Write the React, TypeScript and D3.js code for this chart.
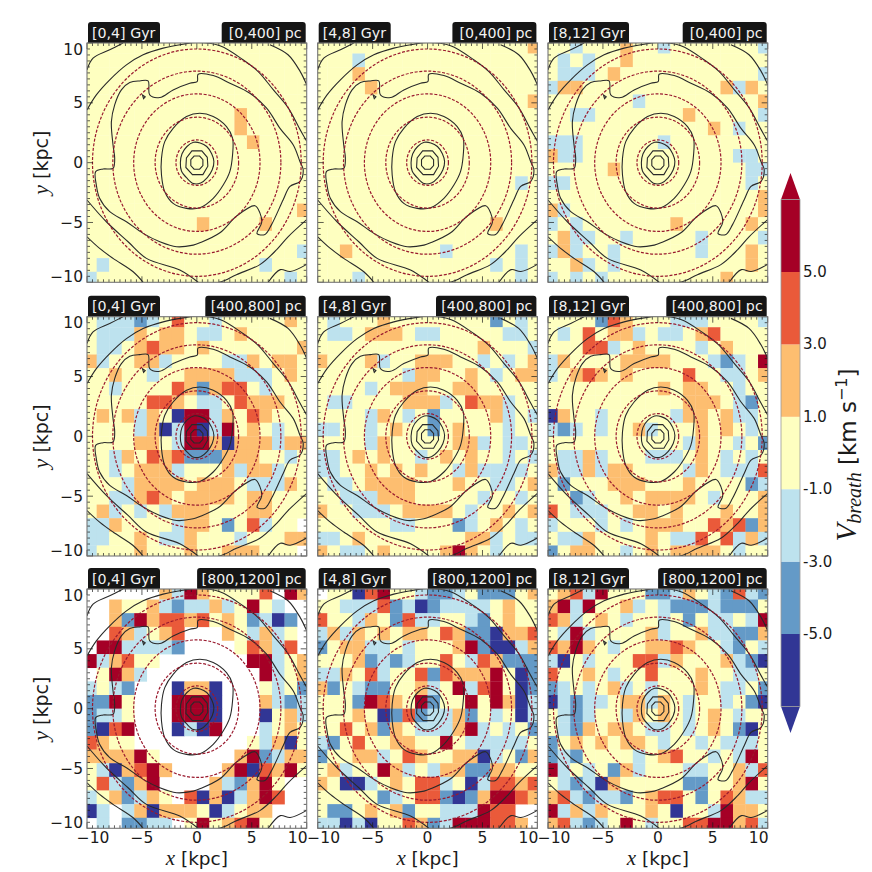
import * as d3 from "d3";

// cell codes: D -6, B -4, b -2, . 0, o 2, r 4, R 6, _ no data
const codeValues: Record<string, number> = { D: -6, B: -4, b: -2, ".": 0, o: 2, r: 4, R: 6, _: NaN };

const age0Thin = [
  "..................", "..................", "..................", "..................", "..................",
  "............o.....", "............o.....", ".............o....", "..................", "..................",
  "..................", "..................", ".................o", ".........o....o...", "..................",
  ".................b", ".b............b...", "b...............b.",
];
const age1Thin = [
  ".................o", "...b..............", "...o..............", "....o.............", ".................o",
  "..................", "..................", "..................", "..................", "..................",
  "................b.", "..................", "..................", "..............o...", "..................",
  "..o.......b.....b.", "..............b.b.", "...b............b.",
];
const age2Thin = [
  "..b...o..b.......b", ".b.b..o...........", ".bbb.o...........b", "boo...........obo.", ".......b.........o",
  "..bb.......o.....b", ".............o.b..", "bbb......b........", "obb............bb.", ".....o..........bb",
  "bb..............b.", ".................o", "ob...............o", "b.b.......o.....o.", ".obb..b.....b....b",
  "bob..b......b...o.", "..ob.b..........o.", "b.b.b.........o...",
];
const age0Mid = [
  ".bbbBb.r..b.....o.", ".bbbo.oo.bb.o.....", ".bb.oroo.o.......o", "ob..oob....bbo.oo.", "..o..b..oooobbb.o.",
  "..b....roBorr.b...", ".....rro.bb.rooo..", ".o.obo.DRRbo.ro...", "....boDbRDbR.o.b..", "....oo.bRRoDoooboo",
  "..bo.rorBBBooo..b.", "..b.ooob...oboob..", "...boooo.ooo.bbbo.", "..bboro.oooo.oo...", ".ob.b.booo...oo...",
  "bbo....boo.B.rb.._", "bb..o.bbo...b...oo", "b...o...o..ooo..._",
];
const age1Mid = [
  ".b...o........B.b.", ".bb.ooo.bb.....bb.", ".............o...b", "o...ob..ooo..b.b.o", ".......boo..o.b.oo",
  "....b.ooo..oo.....", ".bb....ooob.roob..", "....bo.b.B....ob.b", "bb..b.o..B.o...b..", "....bo.....oob.bb.",
  "bb.o.o..b.o.o..b.b", "bb..o.o.o..bobbbb.", ".bb.oooo...o..bb.o", "..bbbooo.....b..b.", "o..bbb.oooo.b..o.o",
  "......bb...Bb.o.b.", "bb.o........oob.bb", "o.bb.o....oRo.b...",
];
const age2Mid = [
  "....Bro...bbb....b", ".b.r.oob.bb.or....", "...rrb.o....b.o...", "bo....oooo...bBb.R", "b.oro.o....r..bb.o",
  ".........o.oo..b..", "...........ooo.bB.", "Do..b.....boo.obb.", "bBb.b..ob...o.o.b.", "...........bo..b.B",
  ".bbob...bbb.o.b.b.", "obboboo....bo.bbbr", ".B...ooo...o....Bb", "..Bb..o.oooo.b...o", "r.bbb..oo.o...o..o",
  "b...b.b.ooo..rorBo", ".bbo....o.bbr.rbob", "B.oo..b.o.oooo.b..",
];
const age0Thick = [
  "______obRo....r_Ro", "__o..obBbbob.R.b__", "__oBRorror.o.BbDB_", "__rob.or___o.bob._", "_RRbbbbB____.robr_",
  "Rbor.._______RRb.o", "_.Rob_________Rb.o", "b.bB___DooD___.b.B", "BBR.___RRRD___obBb", "Bbb.___RRRD___D.ob",
  "BDrR___DbDR___b.o.", "ro.._________.boD.", "ooooR.______oRBboo", ".bDorRo____oRDroR.", ".rbBoR____obBoR.__",
  "b.oBbo._rDoDboRr__", "Db_boDooo.Db.oo___", "_b_BBbb_.R.orR.___",
];
const age1Thick = [
  "_..DrR..bBBb.BBB.o", "..bbbrBbDBbbbb.o..", "r..bo.Brbb..bB.o..", "bobo.o.oo.roBBDoor", "B.oobb.b...oRBDDbo",
  "...oBbBb..r.broBBB", "bbo.rb..rBroooR.DB", "oB.bBB..ob.RbrR.DB", "...BRro.RB..R.RoDb", "...o.DBrBbboB.b.Db",
  "..r.oBo.bbboRb.b.B", "bB.r..oo..R.bbbbb.", "B..oob.ro..ooDb.Bo", ".ob..Rob.booBBoo..", "o.DDb.o.rrb.Dbrror",
  ".....Bb.rrBDBoRRro", ".BB.o.oB..bbbRrr__", "bbDbD..roBbRRRrro_",
];
const age2Thick = [
  ".orbR...BBbo.bBrbB", "oRbR..ob.bBBBbBBB.", "rob.o.b..b.B.bb.bR", ".bRb....ob..obbBBo", "roRo.b..ooro..bB.b",
  "bD.b...rrbo...obBD", "r..o.b..r...o..bb.", "Bb.b.ob.b...o.bb.B", "DbBbb.oobo.b..b.BD", ".bBb..bo.o.b.o.b..",
  ".bBo.oo.bb.b.o.BD.", "B.o.o.oo.b..b.bbb.", "BbB....b.or..b.bR.", "Rb.b.Bob...bb..obr", ".bBbDo.....BB..oR.",
  "orbBbbB.orr.B.robb", "Rbobo...o.D..bRoo.", "orbBb.R.b..rrRRorb",
];

const ageLabels = ["[0,4] Gyr", "[4,8] Gyr", "[8,12] Gyr"];
const heightLabels = ["[0,400] pc", "[400,800] pc", "[800,1200] pc"];
const grids = [
  [age0Thin, age1Thin, age2Thin],
  [age0Mid, age1Mid, age2Mid],
  [age0Thick, age1Thick, age2Thick],
];

const binWidth = 1.14;
const guideRadii = [1.9, 3.8, 5.75, 7.65, 9.5];
const majorTicks = [-10, -5, 0, 5, 10];
const levels = [-5, -3, -1, 1, 3, 5];
const levelColors = ["#313695", "#649ac7", "#bde2ee", "#feffc0", "#fdbe70", "#ea5a3a", "#a50026"];
const barLabels = ["-5.0", "-3.0", "-1.0", "1.0", "3.0", "5.0"];

// central octagons from the coarse density grid, kept straight-edged
const coreContours: [number, number][][] = [
  [[-0.25, 0.55], [0.25, 0.55], [0.55, 0.25], [0.55, -0.25], [0.25, -0.55], [-0.25, -0.55], [-0.55, -0.25], [-0.55, 0.25]],
  [[-0.45, 0.98], [0.45, 0.98], [0.95, 0.45], [1.0, -0.3], [0.55, -1.0], [-0.4, -1.0], [-1.0, -0.4], [-0.95, 0.4]],
  [[-4.95, 5.65], [-4.7, 5.5], [-4.85, 5.35]],
];
const closedContours: [number, number][][] = [
  [[-0.3, 1.7], [0.3, 1.65], [0.9, 1.35], [1.35, 0.75], [1.55, 0.1], [1.4, -0.6], [0.95, -1.25], [0.35, -1.7], [-0.3, -1.75], [-0.9, -1.3], [-1.4, -0.7], [-1.5, 0], [-1.35, 0.75], [-0.9, 1.35]],
  [[0.27, 4.13], [1.49, 3.85], [2.7, 3.01], [3.25, 2.04], [3.25, 0.64], [3.0, -0.75], [2.4, -1.87], [1.49, -2.98], [0.27, -3.77], [-0.94, -3.82], [-2.16, -3.4], [-2.92, -2.43], [-3.22, -1.03], [-3.22, 0.36], [-2.92, 1.76], [-2.16, 2.87], [-0.94, 3.85]],
  [[-4.44, 6.83], [-4.29, 5.66], [-3.37, 5.44], [-2.16, 6.08], [-0.64, 6.64], [0.03, 6.78], [0.12, 7.39], [1.49, 7.28], [3.01, 6.64], [4.83, 5.8], [6.35, 4.55], [7.57, 2.87], [8.78, 1.48], [9.39, 0.08], [9.68, -0.58], [9.4, -1.56], [8.48, -1.98], [7.86, -3.1], [6.8, -5.18], [6.2, -6.0], [5.48, -5.93], [5.9, -5.0], [5.74, -4.2], [5.29, -3.6], [3.6, -4.48], [2.1, -5.86], [0.27, -6.7], [-0.33, -6.89], [-1.85, -7.03], [-3.37, -6.61], [-4.89, -5.91], [-6.41, -4.94], [-7.93, -4.1], [-8.85, -2.98], [-9.15, -1.87], [-9.21, -0.75], [-8.54, -0.53], [-7.63, -0.47], [-7.48, 0.36], [-7.63, 1.48], [-7.78, 3.43], [-7.48, 4.83], [-6.87, 6.08], [-6.11, 6.69], [-5.2, 6.83]],
];
const openContours: [number, number][][] = [
  [[-10, 4.41], [-9.15, 5.66], [-7.93, 6.92], [-6.41, 8.17], [-4.89, 9.01], [-3.07, 9.57], [-1.25, 9.9], [0, 10.04], [2.1, 9.77], [4.2, 8.6], [5.56, 7.63], [6.95, 6.1], [8.3, 4.6], [9.4, 2.76], [10, 1.78]],
  [[-10, -3.12], [-8.24, -4.94], [-6.26, -6.61], [-4.59, -8.0], [-1.55, -8.98], [0.12, -10]],
  [[10, -4.76], [8.3, -6.2], [7.27, -7.27], [5.74, -8.52], [3.6, -9.36], [2.4, -9.9], [2, -10]],
  [[6.5, -10], [7.6, -8.94], [8.5, -9.1], [10, -8.5]],
  [[6.65, 9.86], [8.3, 9.02], [9.4, 7.63], [10, 6.5]],
  [[-10, 7.75], [-9.45, 8.73], [-7.93, 9.43], [-6.72, 10]],
  [[-10, -6.2], [-8.85, -7.17], [-7.63, -8.0], [-5.8, -9.12], [-4.89, -10]],
];

const panelLefts = [87, 317.7, 548];
const panelTops = [43, 316.7, 589];
const panelW = 219.7;
const panelH = 239.3;

const colorScale = d3.scaleThreshold<number, string>().domain(levels).range(levelColors);
const sans = "DejaVu Sans";
const serif = "Liberation Serif";
const ink = "#1a1a1a";

const tickText = (t: number) => (t < 0 ? `\u2212${-t}` : `${t}`);
// end labels are nudged inward, as the original layout does
const yNudge = (t: number) => (t === 10 ? 6 : t === -10 ? -6 : 0);
const xNudge = (t: number) => (t === -10 ? 6 : t === 10 ? -9 : 0);

function Panel({ row, col }: { row: number; col: number }) {
  const left = panelLefts[col];
  const top = panelTops[row];
  const x = d3.scaleLinear().domain([-10, 10]).range([left, left + panelW]);
  const y = d3.scaleLinear().domain([-10, 10]).range([top + panelH, top]);
  const clipId = `clip-${row}-${col}`;
  const grid = grids[row][col];
  const straight = d3.line().x((d) => x(d[0])).y((d) => y(d[1])).curve(d3.curveLinearClosed);
  const smoothClosed = d3.line().x((d) => x(d[0])).y((d) => y(d[1])).curve(d3.curveCatmullRomClosed.alpha(0.5));
  const smoothOpen = d3.line().x((d) => x(d[0])).y((d) => y(d[1])).curve(d3.curveCatmullRom.alpha(0.5));
  const minor = d3.range(-10, 10.01, 0.5);

  const rightLabel = heightLabels[row];
  const rightW = rightLabel.length * 8.2 + 2;

  return (
    <g>
      <rect x={left + 1} y={top - 21} width={col === 2 ? 80 : 72} height={23} rx={3} fill="#151515" />
      <rect x={left + panelW - rightW - 1} y={top - 21} width={rightW} height={23} rx={3} fill="#151515" />
      <text x={left + 5} y={top - 5.5} fontFamily={sans} fontSize={14.2} fill="#f2f2f2">{ageLabels[col]}</text>
      <text x={left + panelW - 5} y={top - 5.5} textAnchor="end" fontFamily={sans} fontSize={14.2} fill="#f2f2f2">{rightLabel}</text>
      <rect x={left} y={top} width={panelW} height={panelH} fill="#fff" />
      <clipPath id={clipId}>
        <rect x={left} y={top} width={panelW} height={panelH} />
      </clipPath>
      <g clipPath={`url(#${clipId})`}>
        {grid.map((line, j) =>
          line.split("").map((code, i) => {
            const value = codeValues[code];
            if (Number.isNaN(value)) return null;
            const x0 = x((i - 9) * binWidth);
            const x1 = x((i - 8) * binWidth);
            const y0 = y((9 - j) * binWidth);
            const y1 = y((8 - j) * binWidth);
            return <rect key={`${j}-${i}`} x={x0} y={y0} width={x1 - x0 + 0.3} height={y1 - y0 + 0.3} fill={colorScale(value)} />;
          })
        )}
        {coreContours.map((c, i) => (
          <path key={`k${i}`} d={straight(c) ?? ""} fill="none" stroke="#2a2a2a" strokeWidth={1.1} />
        ))}
        {closedContours.map((c, i) => (
          <path key={`c${i}`} d={smoothClosed(c) ?? ""} fill="none" stroke="#2a2a2a" strokeWidth={1.1} />
        ))}
        {openContours.map((c, i) => (
          <path key={`o${i}`} d={smoothOpen(c) ?? ""} fill="none" stroke="#2a2a2a" strokeWidth={1.1} />
        ))}
        {guideRadii.map((r) => (
          <ellipse
            key={r}
            cx={x(0)}
            cy={y(0)}
            rx={x(r) - x(0)}
            ry={y(0) - y(r)}
            fill="none"
            stroke="#9a1a2e"
            strokeWidth={1.2}
            strokeDasharray="3 1.6"
          />
        ))}
      </g>
      {minor.map((t) => {
        const long = majorTicks.includes(t);
        const len = long ? 6 : 3;
        return (
          <g key={t} stroke={ink} strokeWidth={0.7}>
            <line x1={x(t)} x2={x(t)} y1={top + panelH} y2={top + panelH - len} />
            <line x1={x(t)} x2={x(t)} y1={top} y2={top + len} />
            <line x1={left} x2={left + len} y1={y(t)} y2={y(t)} />
            <line x1={left + panelW} x2={left + panelW - len} y1={y(t)} y2={y(t)} />
          </g>
        );
      })}
      <rect x={left} y={top} width={panelW} height={panelH} fill="none" stroke="#777" strokeWidth={1.1} />
      {col === 0 &&
        majorTicks.map((t) => (
          <text key={t} x={left - 4} y={y(t) + 5.5 + yNudge(t)} textAnchor="end" fontFamily={sans} fontSize={15.5} fill={ink}>
            {tickText(t)}
          </text>
        ))}
      {row === 2 &&
        majorTicks.map((t) => (
          <text key={t} x={x(t) + xNudge(t)} y={top + panelH + 15} textAnchor="middle" fontFamily={sans} fontSize={15.5} fill={ink}>
            {tickText(t)}
          </text>
        ))}
      {col === 0 && (
        <text
          transform={`translate(${left - 39},${top + panelH / 2}) rotate(-90)`}
          textAnchor="middle"
          fontFamily={sans}
          fontSize={19}
          fill={ink}
        >
          <tspan fontFamily={serif} fontStyle="italic" fontSize={22}>y</tspan> [kpc]
        </text>
      )}
      {row === 2 && (
        <text x={left + panelW / 2} y={top + panelH + 37} textAnchor="middle" fontFamily={sans} fontSize={18.5} fill={ink}>
          <tspan fontFamily={serif} fontStyle="italic" fontSize={21}>x</tspan> [kpc]
        </text>
      )}
    </g>
  );
}

function ColorBar() {
  const barY = d3.scaleLinear().domain([-5, 5]).range([634, 272]);
  const xLeft = 781;
  const xRight = 800;
  const xMid = (xLeft + xRight) / 2;
  const topBase = barY(7);
  const bottomBase = barY(-7);
  const edges = [-7, ...levels, 7];
  return (
    <g>
      <polygon points={`${xLeft},${topBase} ${xMid},173 ${xRight},${topBase}`} fill={levelColors[6]} />
      <polygon points={`${xLeft},${bottomBase} ${xMid},733 ${xRight},${bottomBase}`} fill={levelColors[0]} />
      {levelColors.map((c, i) => (
        <rect key={c} x={xLeft} y={barY(edges[i + 1])} width={xRight - xLeft} height={barY(edges[i]) - barY(edges[i + 1])} fill={c} />
      ))}
      <rect x={xLeft} y={topBase} width={xRight - xLeft} height={bottomBase - topBase} fill="none" stroke="#999" strokeWidth={0.8} />
      {levels.map((l, i) => (
        <text key={l} x={803} y={barY(l) + 5} fontFamily={sans} fontSize={15} fill={ink}>{barLabels[i]}</text>
      ))}
      <text transform="translate(856,455) rotate(-90)" textAnchor="middle" fontFamily={sans} fontSize={23} fill={ink}>
        <tspan fontFamily={serif} fontStyle="italic" fontSize={29}>V</tspan>
        <tspan fontFamily={serif} fontStyle="italic" fontSize={20} dy={5}>breath</tspan>
        <tspan dy={-5}> [km s</tspan>
        <tspan fontSize={16} dy={-9}>{"\u22121"}</tspan>
        <tspan dy={9}>]</tspan>
      </text>
    </g>
  );
}

export default function App() {
  return (
    <svg width={872} height={872} style={{ position: "absolute", left: 0, top: 0, background: "#fff" }}>
      {grids.map((rowGrids, row) =>
        rowGrids.map((_, col) => <Panel key={`${row}-${col}`} row={row} col={col} />)
      )}
      <ColorBar />
    </svg>
  );
}
